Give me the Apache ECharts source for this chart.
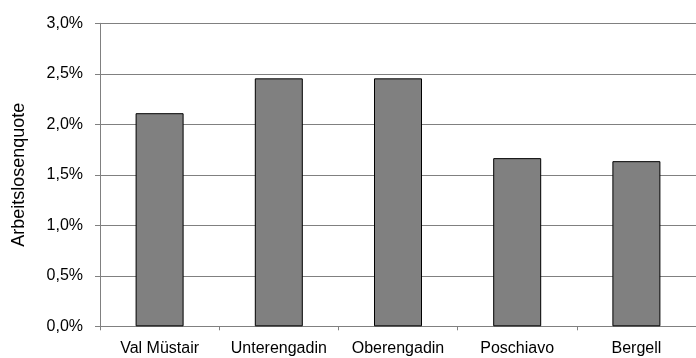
<!DOCTYPE html>
<html><head><meta charset="utf-8">
<script src="https://cdn.jsdelivr.net/npm/echarts@6/dist/echarts.min.js"></script>
<style>html,body{margin:0;padding:0;background:#fff}#c{width:696px;height:358px}</style>
</head><body><div id="c"></div>
<script>
const categories = ['Val Müstair', 'Unterengadin', 'Oberengadin', 'Poschiavo', 'Bergell'];
const values = [2.11, 2.455, 2.455, 1.665, 1.635];
const yTicks = [0, 0.5, 1.0, 1.5, 2.0, 2.5, 3.0];
const yAxisName = 'Arbeitslosenquote';

const chart = echarts.init(document.getElementById('c'), null, {renderer: 'canvas'});
const font = 'Liberation Sans, Arial, sans-serif';
chart.setOption({
  animation: false,
  backgroundColor: '#fff',
  grid: {left: 100, top: 23.3, width: 599, height: 303},
  xAxis: {
    type: 'category', data: categories,
    axisLine: {lineStyle: {color: '#808080', width: 1}},
    axisTick: {show: true, length: 4, lineStyle: {color: '#808080'}},
    axisLabel: {color: '#000', fontFamily: font, fontSize: 16, margin: 14, interval: 0}
  },
  yAxis: {
    type: 'value', min: yTicks[0], max: yTicks[yTicks.length - 1], interval: 0.5,
    name: yAxisName, nameLocation: 'middle', nameGap: 72,
    nameTextStyle: {color: '#000', fontFamily: font, fontSize: 18},
    axisLine: {show: true, lineStyle: {color: '#808080', width: 1}},
    axisTick: {show: true, length: 5, lineStyle: {color: '#808080'}},
    splitLine: {show: true, lineStyle: {color: '#808080', width: 1}},
    axisLabel: {color: '#000', fontFamily: font, fontSize: 16, margin: 17,
      formatter: v => v.toFixed(1).replace('.', ',') + '%'}
  },
  series: [{
    type: 'bar', data: values, barWidth: 48,
    itemStyle: {color: '#808080', borderColor: '#000', borderWidth: 1}
  }]
});
</script></body></html>
